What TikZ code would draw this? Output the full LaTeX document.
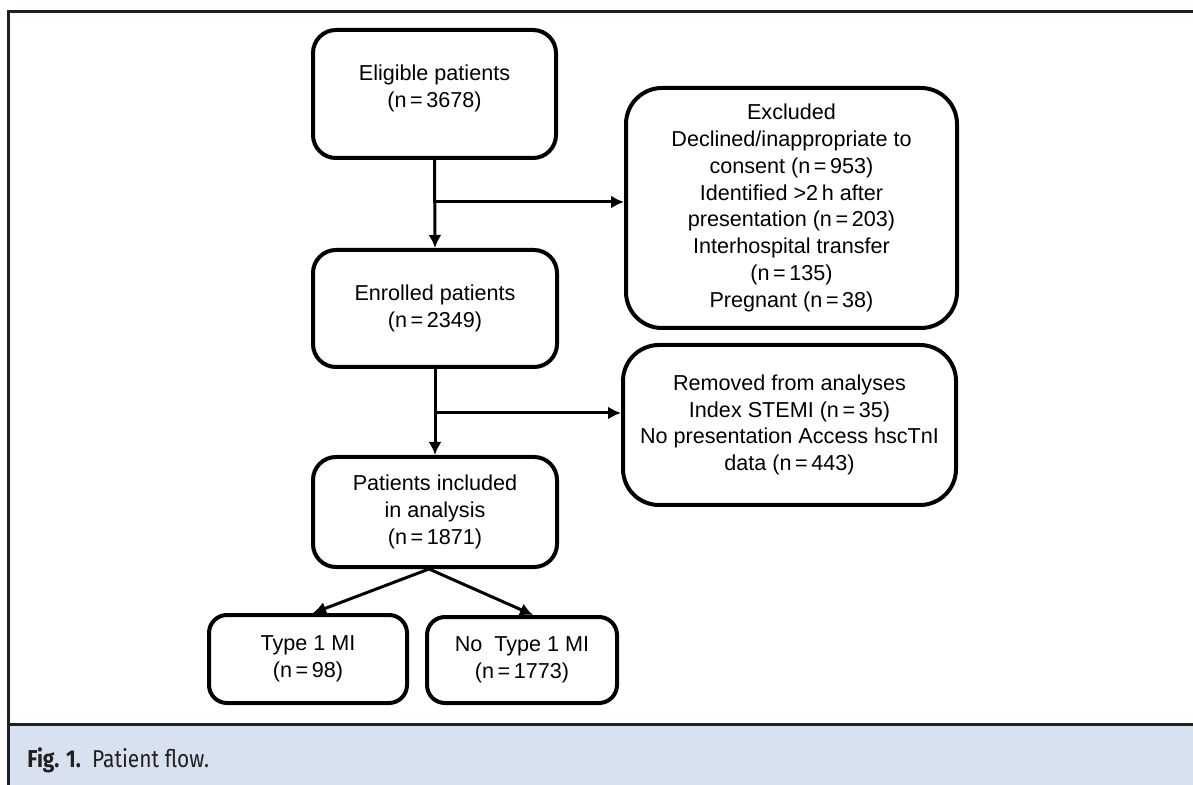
\documentclass[tikz,border=0pt]{standalone}
\usepackage{fontspec}
\setmainfont{Liberation Sans}
\newfontfamily\capfont[FakeStretch=0.86]{Fira Sans}
\usepackage{tikz}
\usetikzlibrary{arrows.meta}

\definecolor{framegray}{RGB}{35,31,32}
\definecolor{capblue}{RGB}{216,225,239}

\tikzset{
    flowbox/.style={draw, line width=2pt, rounded corners=11.5pt, align=center,
        font=\fontsize{10.8}{13.4}\selectfont, inner sep=0pt},
    bigbox/.style={flowbox, rounded corners=18pt},
    smallbox/.style={flowbox, rounded corners=9pt},
    flowarrow/.style={line width=1.5pt, -{Latex[length=6.5pt, width=6.5pt]}}
}

\begin{document}
\begin{tikzpicture}[x=0.5pt, y=-0.5pt]
        \useasboundingbox (0,0) rectangle (1193,785);

        % Caption band and frame
        \fill[capblue] (8,725) rectangle (1193,785);
        \draw[line width=1.5pt, framegray] (1193,11.5) -- (8,11.5) -- (8,785);
        \draw[line width=1.5pt, framegray] (8,724.5) -- (1193,724.5);
        \node[anchor=base west, inner sep=0pt, text=framegray, font=\capfont\fontsize{12.2}{14}\selectfont] (cap) at (27,767)
            {\textbf{Fig. 1.}\ \ Patient flow.};

        % Main column
        \node[flowbox, minimum width=121.5pt, minimum height=64pt, text depth=8pt] (elig) at (434.5,94)
            {Eligible patients\\(n\,=\,3678)};
        \node[flowbox, minimum width=122pt, minimum height=58.5pt] (enrol) at (435,308.5)
            {Enrolled patients\\(n\,=\,2349)};
        \node[flowbox, minimum width=122pt, minimum height=55pt] (incl) at (435,512)
            {Patients included\\in analysis\\(n\,=\,1871)};

        % Exclusions on the right
        \node[bigbox, minimum width=165.5pt, minimum height=120pt] (excl) at (791.5,208)
            {Excluded\\Declined/inappropriate to\\consent (n\,=\,953)\\Identified >2\,h after\\presentation (n\,=\,203)\\Interhospital transfer\\(n\,=\,135)\\Pregnant (n\,=\,38)};
        \node[bigbox, minimum width=166.5pt, minimum height=80pt] (remov) at (789.5,425)
            {Removed from analyses\\Index STEMI (n\,=\,35)\\No presentation Access hscTnI\\data (n\,=\,443)};

        % Outcome boxes
        \node[smallbox, minimum width=99pt, minimum height=44pt] (type1) at (308,659)
            {Type 1 MI\\(n\,=\,98)};
        \node[smallbox, minimum width=95pt, minimum height=43pt] (notype1) at (522,660)
            {No\ \ Type 1 MI\\(n\,=\,1773)};

        % Branch points
        \coordinate (b1) at (435,202);
        \coordinate (b2) at (436,413);

        % Connectors
        \draw[flowarrow] (elig.south) -- (enrol.north);
        \draw[flowarrow] (b1) -- (b1 -| excl.west);
        \draw[flowarrow] (enrol.south) -- (incl.north);
        \draw[flowarrow] (b2) -- (b2 -| remov.west);
        \draw[flowarrow] ([xshift=-3pt]incl.south) -- ([xshift=2.5pt]type1.north);
        \draw[flowarrow] ([xshift=-3pt]incl.south) -- ([xshift=5.5pt]notype1.north);
\end{tikzpicture}
\end{document}
